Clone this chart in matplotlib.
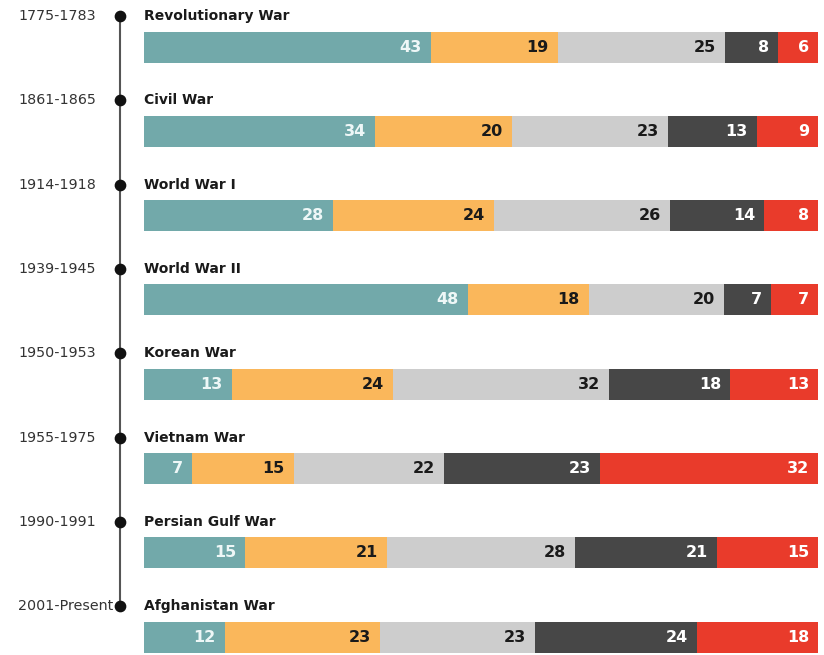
import matplotlib
matplotlib.use("Agg")
import matplotlib.pyplot as plt
import numpy as np

plt.rcParams['font.family'] = ['DejaVu Sans']

wars = ["Revolutionary War", "Civil War", "World War I", "World War II",
        "Korean War", "Vietnam War", "Persian Gulf War", "Afghanistan War"]
years = ["1775-1783", "1861-1865", "1914-1918", "1939-1945",
         "1950-1953", "1955-1975", "1990-1991", "2001-Present"]
seg1 = [43, 34, 28, 48, 13, 7, 15, 12]
seg2 = [19, 20, 24, 18, 24, 15, 21, 23]
seg3 = [25, 23, 26, 20, 32, 22, 28, 23]
seg4 = [8, 13, 14, 7, 18, 23, 21, 24]
seg5 = [6, 9, 8, 7, 13, 32, 15, 18]

colors = ["#72a9aa", "#fab75b", "#cdcdcd", "#474747", "#e93b2b"]
txt_colors = ["#eef7f7", "#1a1a1a", "#1a1a1a", "#ffffff", "#ffffff"]

fig = plt.figure(figsize=(8.24, 6.55), dpi=100)
ax = fig.add_axes([0, 0, 1, 1])
px = 6.74
ax.set_xlim(-144 / px, 100 + (824 - 818) / px)
ry = 84.3
ax.set_ylim((655 - 47) / ry, -47 / ry)
ax.axis('off')

data = np.array([seg1, seg2, seg3, seg4, seg5], dtype=float)
n = len(wars)
bar_h = 31 / ry
for i in range(n):
    vals = data[:, i]
    pct = vals / vals.sum() * 100
    left = 0.0
    for j in range(5):
        ax.barh(i, pct[j], left=left, height=bar_h, color=colors[j], linewidth=0)
        ax.text(left + pct[j] - 9 / px, i, f"{int(vals[j])}", ha='right', va='center',
                fontsize=11.5, fontweight='bold', color=txt_colors[j])
        left += pct[j]
    ty = i - 31 / ry
    ax.text(0, ty, wars[i], ha='left', va='center', fontsize=10,
            fontweight='bold', color='#1a1a1a')
    ax.text(-126 / px, ty, years[i], ha='left', va='center', fontsize=10.3,
            color='#333333')

# timeline
xdot = -24 / px
ty0 = -31 / ry
ty1 = (n - 1) - 31 / ry
ax.plot([xdot, xdot], [ty0, ty1], color='#555555', linewidth=1.5, zorder=1)
ax.scatter([xdot] * n, [i - 31 / ry for i in range(n)], s=55, color='#111111', zorder=2)

fig.savefig("out.png", dpi=100)
